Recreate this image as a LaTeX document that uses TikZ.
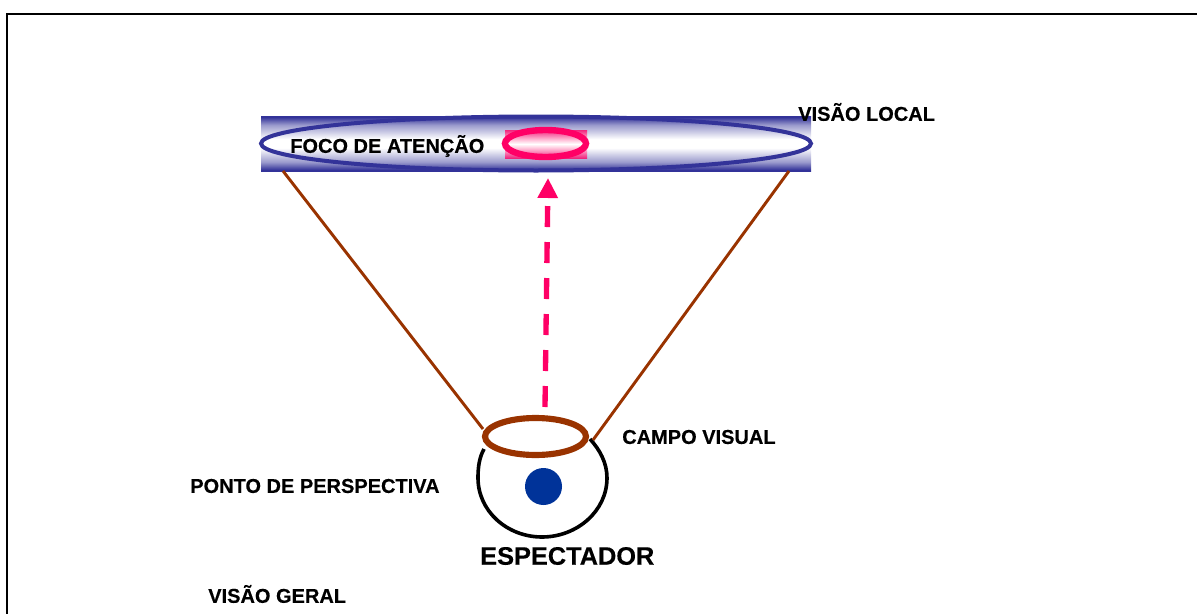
\documentclass[tikz,border=0pt]{standalone}
\usepackage{fontspec}
\setmainfont{Liberation Sans}[BoldFeatures={FakeBold=0.3}]
\usetikzlibrary{arrows.meta}
\usetikzlibrary{shapes.geometric}

\definecolor{focoblue}{RGB}{51,51,153}
\definecolor{focopink}{RGB}{255,0,102}
\definecolor{campobrown}{RGB}{153,51,0}
\definecolor{pontoblue}{RGB}{0,51,153}

\pgfdeclareverticalshading{faixa}{100bp}{
  color(0bp)=(focoblue); color(26bp)=(focoblue); color(33bp)=(focoblue!50);
  color(46bp)=(white); color(54bp)=(white); color(67bp)=(focoblue!50);
  color(74bp)=(focoblue); color(100bp)=(focoblue)}

\tikzset{
  rotulo/.style={inner sep=0pt,font=\bfseries\fontsize{15}{18}\selectfont},
  raio/.style={draw=campobrown,line width=2.2pt},
}

\begin{document}
\begin{tikzpicture}[x=0.75pt,y=0.75pt,yscale=-1,xscale=1]
\useasboundingbox (0,0) rectangle (1197,614);

%Frame
\draw [line width=1.5pt] (7,614) -- (7,14) -- (1197,14);

%Band of the local view
\shade [shading=faixa] (261,116) rectangle (811,171);
\node (visaolocal) [draw=focoblue,line width=3pt,ellipse,minimum width=412.5pt,minimum height=40.5pt,inner sep=0pt] at (536,143.5) {};

%Focus
\shade [top color=focopink,bottom color=focopink,middle color=white,opacity=0.8] (505,130) rectangle (587,158);
\node (foco) [draw=focopink,line width=4.8pt,ellipse,minimum width=60.75pt,minimum height=20.25pt,inner sep=0pt] at (545.5,143.5) {};

%Viewer
\draw [line width=2.7pt] (484,449) .. controls (479,458) and (478,468) .. (478,478) .. controls (478,511) and (507,537) .. (542,537) .. controls (577,537) and (607,511) .. (607,478) .. controls (607,463) and (600,450) .. (590,439);
\node (ponto) [circle,fill=pontoblue,minimum size=27.75pt,inner sep=0pt] at (543.5,486.5) {};
\node (campo) [draw=campobrown,line width=4.6pt,ellipse,minimum width=75.75pt,minimum height=27.75pt,inner sep=0pt] at (535.5,436.5) {};

\coordinate (bandaesq) at (283,171);
\coordinate (bandadir) at (789,171);
\coordinate (campoesq) at (483,429);
\coordinate (campodir) at (593,440);
\coordinate (olhar) at (545,407);
\coordinate (alvo) at (548,178);

\draw [raio] (bandaesq) -- (campoesq);
\draw [raio] (bandadir) -- (campodir);
\draw [draw=focopink,line width=4pt,dash pattern=on 15.75pt off 11.25pt,-{Triangle[length=15pt,width=14.5pt]}] (olhar) -- (alvo);

% Text Node
\node (foconome) [rotulo,anchor=west] at (290,146) {FOCO DE ATENÇÃO};
\node (localnome) [rotulo,anchor=west] at (798,112) {VISÃO LOCAL};
\node (camponome) [rotulo,anchor=west] at (622,437) {CAMPO VISUAL};
\node (pontonome) [rotulo,anchor=west] at (190,486) {PONTO DE PERSPECTIVA};
\node (espectador) [rotulo,anchor=west,font=\bfseries\fontsize{19}{22}\selectfont] at (480,556) {ESPECTADOR};
\node (geralnome) [rotulo,anchor=west] at (208,594) {VISÃO GERAL};

\end{tikzpicture}
\end{document}
